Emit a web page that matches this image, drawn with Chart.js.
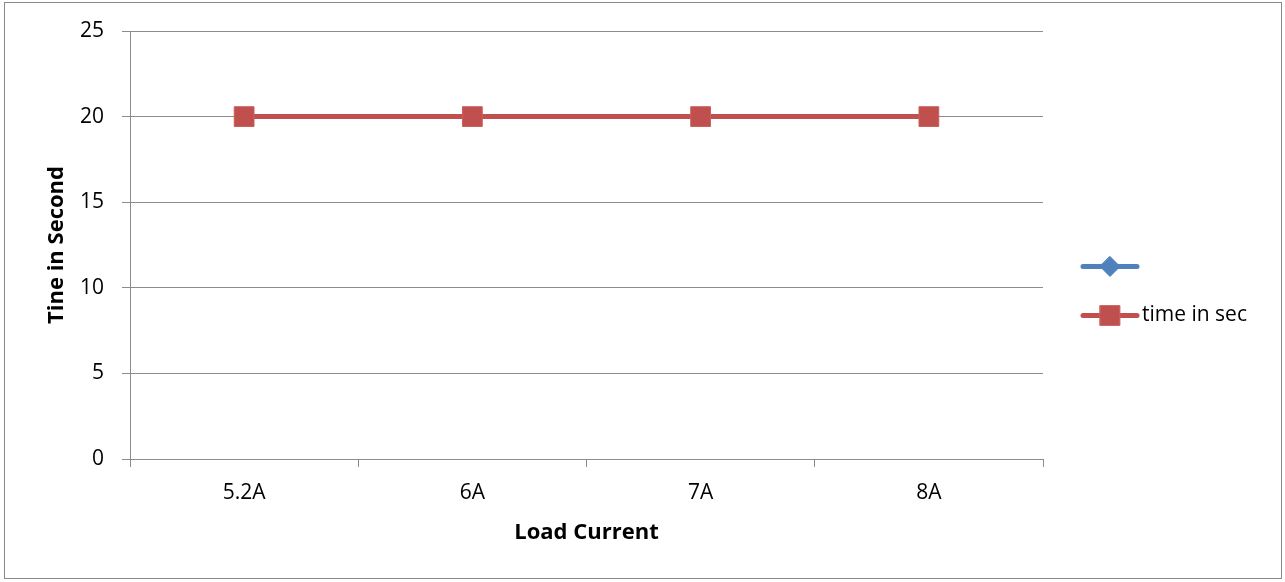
<!DOCTYPE html>
<html>
<head>
<meta charset="utf-8">
<script src="https://cdn.jsdelivr.net/npm/chart.js@4.4.0/dist/chart.umd.min.js"></script>
<style>
  html, body { margin: 0; padding: 0; background: #fff; }
  #wrap { position: relative; width: 1285px; height: 582px; }
  #frame { position: absolute; left: 4px; top: 2px; width: 1276px; height: 575px; border: 1px solid #898989; pointer-events: none; }
</style>
</head>
<body>
<div id="wrap">
  <canvas id="lineChart" width="1285" height="582"></canvas>
  <div id="frame"></div>
</div>
<script>
// 横軸のカテゴリ
var categories = ["5.2A", "6A", "7A", "8A"];
// 系列1（ラベルなし・値なし）
var blankSeries = [null, null, null, null];
// 系列2
var timeInSec = [20, 20, 20, 20];
// 縦軸の目盛
var yMin = 0, yMax = 25, yStep = 5;

var FONT = "'Open Sans', 'Liberation Sans', sans-serif";
var GRID = "#8c8c8c";

// 凡例を線＋マーカーで描く（キャンバスの縦中央に配置）
var legendPlugin = {
  id: 'excelLegend',
  afterDraw: function (chart) {
    var ctx = chart.ctx;
    var area = chart.chartArea;
    var x0 = area.right + 40;
    var gap = 49;
    var sets = chart.data.datasets;
    var startY = chart.height / 2 - gap * (sets.length - 1) / 2;
    sets.forEach(function (ds, i) {
      var y = startY + gap * i;
      var cx = x0 + 27;
      ctx.save();
      ctx.strokeStyle = ds.borderColor;
      ctx.lineWidth = ds.borderWidth;
      ctx.lineCap = 'round';
      ctx.beginPath();
      ctx.moveTo(x0, y);
      ctx.lineTo(x0 + 54, y);
      ctx.stroke();
      ctx.fillStyle = ds.pointBackgroundColor;
      ctx.strokeStyle = ds.pointBorderColor;
      ctx.lineWidth = 1;
      ctx.beginPath();
      if (ds.pointStyle === 'rect') {
        var s = ds.pointRadius * Math.SQRT1_2;
        ctx.rect(cx - s, y - s, 2 * s, 2 * s);
      } else {
        var r = ds.pointRadius;
        ctx.moveTo(cx, y - r);
        ctx.lineTo(cx + r, y);
        ctx.lineTo(cx, y + r);
        ctx.lineTo(cx - r, y);
        ctx.closePath();
      }
      ctx.fill();
      ctx.stroke();
      ctx.fillStyle = '#000';
      ctx.font = "21px " + FONT;
      ctx.textBaseline = 'middle';
      ctx.fillText(ds.label, x0 + 59, y);
      ctx.restore();
    });
  }
};

var ctx1 = document.getElementById("lineChart");
var myChart1 = new Chart(ctx1, {
  type: 'line',
  data: {
    labels: categories,
    datasets: [
      {
        label: "",
        data: blankSeries,
        borderColor: "#4F81BD",
        backgroundColor: "#4F81BD",
        pointBackgroundColor: "#4F81BD",
        pointBorderColor: "#4F81BD",
        borderWidth: 5,
        pointStyle: 'rectRot',
        pointRadius: 10
      },
      {
        label: "time in sec",
        data: timeInSec,
        borderColor: "#C0504D",
        backgroundColor: "#C0504D",
        pointBackgroundColor: "#C0504D",
        pointBorderColor: "#C9625F",
        borderWidth: 5,
        pointStyle: 'rect',
        pointRadius: 14,
        pointHoverRadius: 14,
        pointBorderWidth: 1
      }
    ]
  },
  options: {
    responsive: false,
    animation: false,
    events: [],
    layout: { padding: { left: 0, top: 31, right: 242, bottom: 0 } },
    plugins: {
      legend: { display: false },
      tooltip: { enabled: false }
    },
    scales: {
      x: {
        offset: true,
        afterFit: function (scale) { scale.height = 123; },
        grid: {
          offset: true,
          drawOnChartArea: false,
          drawTicks: true,
          tickLength: 8,
          color: GRID,
          lineWidth: 1
        },
        border: { display: true, color: GRID, width: 1 },
        ticks: {
          color: '#000',
          padding: 13,
          font: { family: FONT, size: 21 }
        },
        title: {
          display: true,
          text: "Load Current",
          color: '#000',
          font: { family: FONT, size: 22, weight: 'bold' },
          padding: { top: 0, bottom: 36 }
        }
      },
      y: {
        min: yMin,
        max: yMax,
        afterFit: function (scale) { scale.width = 130; },
        grid: {
          color: GRID,
          lineWidth: 1,
          tickLength: 8
        },
        border: { display: true, color: GRID, width: 1 },
        ticks: {
          stepSize: yStep,
          color: '#000',
          padding: 18,
          font: { family: FONT, size: 21 }
        },
        title: {
          display: true,
          text: "Tine in Second",
          color: '#000',
          font: { family: FONT, size: 22, weight: 'bold' },
          padding: { top: 44, bottom: 0 }
        }
      }
    }
  },
  plugins: [legendPlugin]
});
</script>
</body>
</html>
